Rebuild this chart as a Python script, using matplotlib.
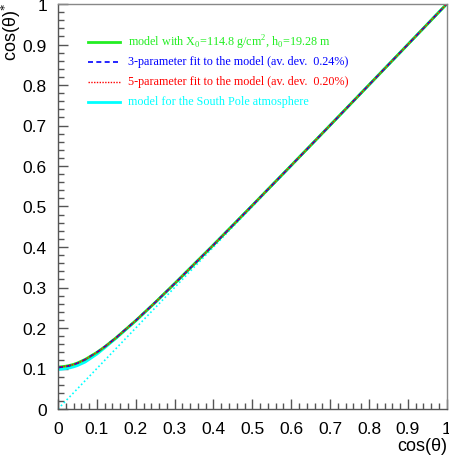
import matplotlib
matplotlib.use("Agg")
import matplotlib.pyplot as plt
from matplotlib.ticker import MultipleLocator, FuncFormatter

# cos(theta) values and the corresponding cos(theta)*
cos_theta = [0.0, 0.01, 0.02, 0.03, 0.04, 0.05, 0.07, 0.1, 0.12, 0.15, 0.2, 0.25, 0.3,
             0.4, 0.5, 0.6, 0.7, 0.8, 0.9, 1.0]
model_y = [0.1035, 0.1045, 0.1057, 0.1076, 0.1102, 0.1136, 0.1224, 0.1398, 0.1535, 0.1764,
           0.2183, 0.2631, 0.3096, 0.4052, 0.5028, 0.6014, 0.7006, 0.8002, 0.9000, 1.0]
fit3_y = [0.1025, 0.1037, 0.1050, 0.1070, 0.1097, 0.1132, 0.1222, 0.1400, 0.1537, 0.1766,
          0.2185, 0.2632, 0.3096, 0.4051, 0.5027, 0.6013, 0.7005, 0.8002, 0.9000, 1.0]
fit5_y = [0.1033, 0.1044, 0.1056, 0.1075, 0.1101, 0.1135, 0.1223, 0.1398, 0.1535, 0.1764,
          0.2183, 0.2631, 0.3096, 0.4052, 0.5028, 0.6014, 0.7006, 0.8002, 0.9000, 1.0]
pole_y = [0.0975, 0.0985, 0.0998, 0.1015, 0.1040, 0.1072, 0.1160, 0.1355, 0.1510, 0.1752,
          0.2175, 0.2627, 0.3094, 0.4051, 0.5027, 0.6013, 0.7005, 0.8002, 0.9000, 1.0]
flat_x = [0.0, 1.0]
flat_y = [0.0, 1.0]

labels = [
    r"model with X$_0$=114.8 g/cm$^2$, h$_0$=19.28 m",
    "3-parameter fit to the model (av. dev.  0.24%)",
    "5-parameter fit to the model (av. dev.  0.20%)",
    "model for the South Pole atmosphere",
]
colors = ["#22ee22", "#0000ff", "#ff0000", "#00ffff"]

plt.rcParams["mathtext.fontset"] = "custom"
plt.rcParams["mathtext.rm"] = "Liberation Serif"

fig = plt.figure(figsize=(4.49, 4.64), dpi=100)
ax = fig.add_axes([58/449, 54/464, (446.7-58)/449, (410-5)/464])

ax.plot(flat_x, flat_y, color=colors[3], lw=1.2, ls=(0, (1, 1.5)))
ax.plot(cos_theta, pole_y, color=colors[3], lw=2.0)
ax.plot(cos_theta, model_y, color=colors[0], lw=2.0)
ax.plot(cos_theta, fit3_y, color=colors[1], lw=1.2, ls=(0, (3, 2)))
ax.plot(cos_theta, fit5_y, color=colors[2], lw=1.0, ls=(0, (1, 1)))

ax.set_xlim(0, 1)
ax.set_ylim(0, 1)

axc = "#555555"
for s in ax.spines.values():
    s.set_color("#888888")
    s.set_linewidth(1.0)
ax.spines["left"].set_color(axc)
ax.spines["bottom"].set_color(axc)

ax.xaxis.set_major_locator(MultipleLocator(0.1))
ax.xaxis.set_minor_locator(MultipleLocator(0.02))
ax.yaxis.set_major_locator(MultipleLocator(0.1))
ax.yaxis.set_minor_locator(MultipleLocator(0.02))
ax.tick_params(which="major", direction="in", length=7, width=1, color=axc,
               labelsize=12.5)
ax.tick_params(axis="x", which="major", pad=9)
ax.tick_params(axis="y", which="major", pad=8)
ax.tick_params(which="minor", direction="in", length=4, width=1, color=axc)
ax.xaxis.set_major_formatter(FuncFormatter(lambda v, p: f"{v:g}"))
ax.yaxis.set_major_formatter(FuncFormatter(lambda v, p: f"{v:g}"))
for lab in ax.get_xticklabels() + ax.get_yticklabels():
    lab.set_fontfamily("Liberation Sans")

fig.text(447/449, 1 - 447/464, "cos(θ)", ha="right", va="center",
         fontsize=13, family="Liberation Sans")
fig.text(11/449, 1 - 3/464, "cos(θ)$^{*}$", ha="center", va="top", rotation=90,
         fontsize=13, family="Liberation Sans")

leg_y = [42.5, 62.5, 82.5, 102.5]
styles = [dict(lw=2.0), dict(lw=1.2, ls=(0, (3, 2))), dict(lw=1.0, ls=(0, (1, 1))), dict(lw=2.0)]
for lab, c, yy, st in zip(labels, colors, leg_y, styles):
    fy = 1 - yy/464
    fig.add_artist(plt.Line2D([88/449, 120/449], [fy, fy], color=c, transform=fig.transFigure, **st))
    fig.text(128/449, fy, lab, color=c, ha="left", va="center", fontsize=8.7,
             family="Liberation Serif")

fig.savefig("out.png", dpi=100)
